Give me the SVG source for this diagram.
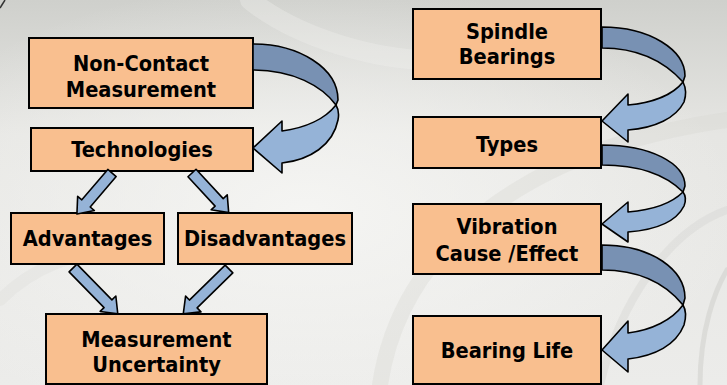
<svg xmlns="http://www.w3.org/2000/svg" width="727" height="385" viewBox="0 0 727 385">
<defs>
<style>
.box{fill:#F9BF8F;stroke:#000;stroke-width:2}
.lbl{font-family:"DejaVu Sans Condensed","DejaVu Sans",sans-serif;font-weight:bold;font-size:21.6px;fill:#000;text-anchor:middle}
.dk{fill:#7891B3;stroke:#000;stroke-width:1.6;stroke-linejoin:round}
.lt{fill:#95B3D7;stroke:#000;stroke-width:1.6;stroke-linejoin:round}
</style>
<linearGradient id="bgv" x1="0" y1="0" x2="0" y2="1">
<stop offset="0" stop-color="#cfd0cc"/>
<stop offset="0.35" stop-color="#e6e6e3"/>
<stop offset="1" stop-color="#ececea"/>
</linearGradient>
<radialGradient id="glow" cx="0.42" cy="0.55" r="0.6">
<stop offset="0" stop-color="#f6f6f4" stop-opacity="0.9"/>
<stop offset="1" stop-color="#f6f6f4" stop-opacity="0"/>
</radialGradient>
<path id="arrS" d="M0,-5.5 H40 V-11 L54,0 L40,11 V5.5 H0 Z"/>
<path id="arrL" d="M0,-5.5 H50 V-11 L64,0 L50,11 V5.5 H0 Z"/>
</defs>
<g id="background">
<rect width="727" height="385" fill="url(#bgv)"/>
<rect width="727" height="385" fill="url(#glow)"/>
<g fill="none" stroke-linecap="round">
<path d="M380,385 C400,250 520,150 727,120" stroke="#d6d6d2" stroke-width="16" opacity="0.35"/>
<path d="M600,385 C620,300 670,230 727,210" stroke="#d2d2ce" stroke-width="8" opacity="0.35"/>
<path d="M0,300 C40,260 90,250 130,250" stroke="#dadad6" stroke-width="12" opacity="0.3"/>
<path d="M700,385 C700,330 715,290 727,270" stroke="#cacac6" stroke-width="5" opacity="0.45"/>
<path d="M250,0 C300,40 380,60 430,60" stroke="#f0f0ee" stroke-width="20" opacity="0.35"/>
</g>
<path d="M0,8 L5,0" stroke="#333" stroke-width="1.5"/>
</g>
<g id="n-noncontact">
<rect class="box" x="29" y="38" width="224" height="70"/>
<text class="lbl" x="141" y="70.5">Non-Contact</text>
<text class="lbl" x="141" y="96.5">Measurement</text>
</g>
<g id="n-technologies">
<rect class="box" x="31" y="128" width="222" height="43"/>
<text class="lbl" x="142" y="157">Technologies</text>
</g>
<g id="n-advantages">
<rect class="box" x="11" y="213" width="153" height="51"/>
<text class="lbl" x="87.5" y="246">Advantages</text>
</g>
<g id="n-disadvantages">
<rect class="box" x="178" y="213" width="174" height="51"/>
<text class="lbl" x="265" y="246">Disadvantages</text>
</g>
<g id="n-uncertainty">
<rect class="box" x="46" y="314" width="221" height="70"/>
<text class="lbl" x="156.5" y="346.5">Measurement</text>
<text class="lbl" x="156.5" y="372">Uncertainty</text>
</g>
<g id="n-spindle">
<rect class="box" x="413" y="9" width="188" height="70"/>
<text class="lbl" x="507" y="39">Spindle</text>
<text class="lbl" x="507" y="64">Bearings</text>
</g>
<g id="n-types">
<rect class="box" x="413" y="117" width="188" height="51"/>
<text class="lbl" x="507" y="152">Types</text>
</g>
<g id="n-vibration">
<rect class="box" x="413" y="204" width="188" height="70"/>
<text class="lbl" x="507" y="234">Vibration</text>
<text class="lbl" x="507" y="261">Cause /Effect</text>
</g>
<g id="n-life">
<rect class="box" x="413" y="316" width="188" height="68"/>
<text class="lbl" x="507" y="358">Bearing Life</text>
</g>
<g id="connectors">
<path class="dk" d="M253,44 C299,44 338,68 338,100 L336,105 C322,86 293,70 253,70 Z"/>
<path class="lt" d="M336,105 C339,110 339,115 338,120 C333,145 310,160 282,163 L282,173 L253,148 L282,121 L282,131 C305,128 325,119 336,105 Z"/>
<path class="dk" d="M602,27 C650,27 685,50 685,76 L683,82 C665,62 640,48 602,48 Z"/>
<path class="lt" d="M683,82 C686,88 686,96 684,102 C676,118 655,128 628,130 L628,142 L602,121 L628,94 L628,105 C650,103 672,96 683,82 Z"/>
<path class="dk" d="M602,145 C650,145 685,163 685,186 L683,192 C666,175 640,165 602,165 Z"/>
<path class="lt" d="M683,192 C686,196 686,201 684,206 C676,222 655,230 628,232 L628,242 L602,224 L628,202 L628,212 C652,210 672,203 683,192 Z"/>
<path class="dk" d="M602,245 C652,245 685,270 685,298 L683,305 C666,284 640,270 602,270 Z"/>
<path class="lt" d="M683,305 C686,310 686,318 684,325 C676,345 655,356 628,359 L628,372 L602,350 L628,321 L628,333 C652,330 672,320 683,305 Z"/>
<use href="#arrS" class="lt" transform="translate(112,173) rotate(130.5)"/>
<use href="#arrS" class="lt" transform="translate(192,173) rotate(47.2)"/>
<use href="#arrL" class="lt" transform="translate(73,268) rotate(45.6)"/>
<use href="#arrL" class="lt" transform="translate(229,269) rotate(135.6)"/>
</g>
</svg>
